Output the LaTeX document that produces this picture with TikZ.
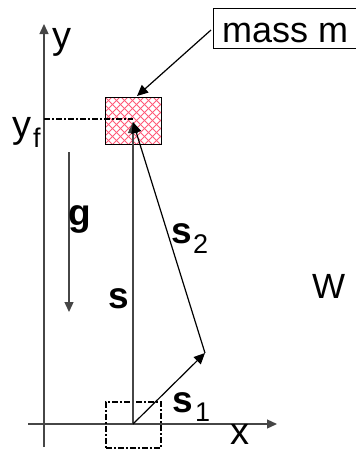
\documentclass[tikz,border=0pt]{standalone}
\usepackage{fontspec}
\setmainfont{Liberation Sans}
\usetikzlibrary{arrows.meta}
\definecolor{hatchred}{RGB}{255,90,120}
\definecolor{axisgray}{RGB}{70,70,70}
\begin{document}
\begin{tikzpicture}[x=1pt,y=-1pt,
  lbl/.style={inner sep=0pt,anchor=base west,font=\fontsize{38}{44}\selectfont},
  blbl/.style={inner sep=0pt,anchor=base west,font=\fontsize{37}{44}\selectfont\bfseries},
  sub/.style={inner sep=0pt,anchor=base west,font=\fontsize{27}{32}\selectfont},
  axisline/.style={draw=axisgray,line width=1.3pt},
  bigtip/.style={-{Triangle[length=11pt,width=10pt]}},
  smalltip/.style={-{Triangle[length=10pt,width=9pt]}},
  dashdotline/.style={line width=1.8pt,dash pattern=on 6pt off 2pt on 2pt off 2pt},
  hatch/.style={draw=hatchred,line width=0.8pt},
  vec/.style={draw=black,line width=1.2pt}]
\useasboundingbox (0,0) rectangle (356,453);
\clip (0,0) rectangle (356,453);

% coordinates
\coordinate (O) at (133,424);
\coordinate (P1) at (205,353);
\coordinate (F) at (133,122);
\coordinate (yb) at (44,447);
\coordinate (yt) at (44,24);
\coordinate (xl) at (28,424);
\coordinate (xr) at (277,424);
\coordinate (yfL) at (44,119);
\coordinate (yfR) at (133,119);
\coordinate (g1) at (69,152);
\coordinate (g2) at (69,312);

% mass box with hatch
\begin{scope}
\clip (105,97) rectangle (161,144);
\foreach \i in {-64,-56,...,64} {
  \draw[hatch] (105+\i,97) -- ++(47,47);
  \draw[hatch] (105+\i,144) -- ++(47,-47);
}
\end{scope}
\node[draw=black,line width=1.3pt,minimum width=56pt,minimum height=47pt,inner sep=0pt,anchor=north west] (mass) at (105,97) {};

% axes
\draw[axisline,smalltip] (yb) -- (yt);
\draw[axisline,smalltip] (xl) -- (xr);

% dash-dot lines
\draw[dashdotline] (yfL) -- (yfR);
\node[draw=black,dashdotline,line width=1.5pt,minimum width=55pt,minimum height=46pt,inner sep=0pt,anchor=north west] (start) at (105,401) {};

% vectors
\draw[axisline,bigtip] (O) -- (F);
\draw[vec,bigtip] (O) -- (P1);
\draw[vec,bigtip] (P1) -- (F);
\draw[axisline,smalltip] (g1) -- (g2);

% mass m label
\node[draw=black,line width=1.2pt,inner sep=0pt,minimum height=40pt,minimum width=150pt,anchor=north west] (mlbox) at (213,8) {};
\node[inner sep=0pt,anchor=base west,font=\fontsize{36}{42}\selectfont] (mlabel) at (222,42) {mass m};
\coordinate (mstart) at (211,30);
\draw[vec,bigtip] (mstart) -- (137,96);

% labels
\node[lbl] (ylab) at (52,48) {y};
\node[lbl] (yflab) at (12,137) {y};
\node[sub] (yfsub) at (33,147) {f};
\node[blbl] (glab) at (68,225) {g};
\node[blbl] (slab) at (108,308) {s};
\node[blbl] (s2lab) at (171,243) {s};
\node[sub] (s2sub) at (193,253) {2};
\node[lbl,font=\fontsize{35}{42}\selectfont] (Wlab) at (312,298) {W};
\node[blbl] (s1lab) at (172,412) {s};
\node[sub] (s1sub) at (195,421) {1};
\node[lbl] (xlab) at (230,444) {x};
\end{tikzpicture}
\end{document}
